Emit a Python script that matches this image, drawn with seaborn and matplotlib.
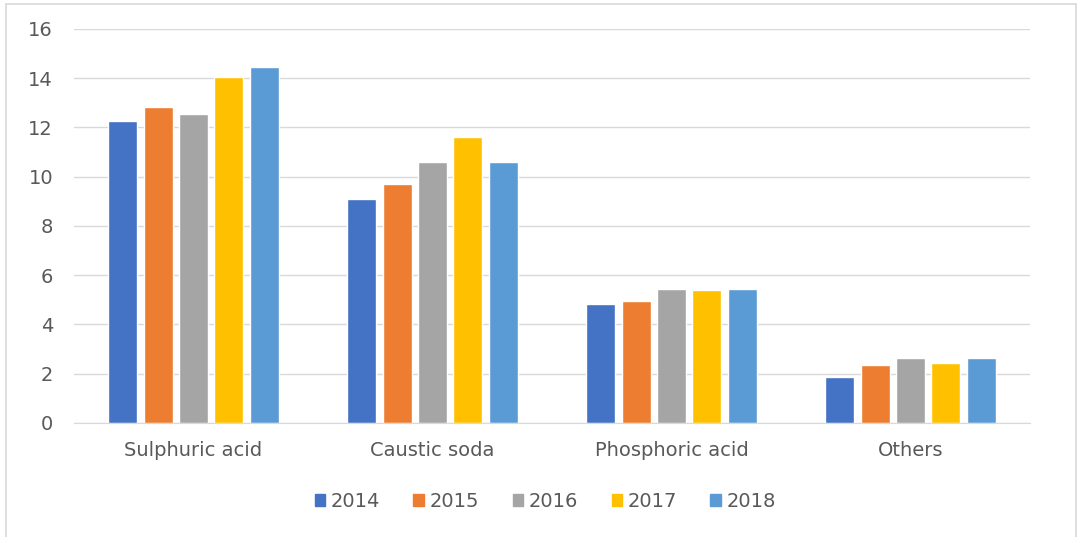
import pandas as pd
import seaborn as sns
from matplotlib import pyplot as plt
from matplotlib.patches import Rectangle
from matplotlib.lines import Line2D

# Daten
categories = ['Sulphuric acid', 'Caustic soda', 'Phosphoric acid', 'Others']
years = ['2014', '2015', '2016', '2017', '2018']
v2014 = [12.25, 9.1, 4.85, 1.85]
v2015 = [12.85, 9.7, 4.95, 2.35]
v2016 = [12.55, 10.6, 5.45, 2.65]
v2017 = [14.05, 11.6, 5.4, 2.45]
v2018 = [14.45, 10.6, 5.45, 2.65]
colors = ['#4472C4', '#ED7D31', '#A5A5A5', '#FFC000', '#5B9BD5']

rows = []
for year, vals in zip(years, [v2014, v2015, v2016, v2017, v2018]):
    for cat, v in zip(categories, vals):
        rows.append({'category': cat, 'year': year, 'value': v})
df = pd.DataFrame(rows)

sns.set_style("white")
plt.rcParams['font.family'] = ['DejaVu Sans']

fig = plt.figure(figsize=(10.78, 5.37), dpi=100)
ax = fig.add_axes([0.0686, 0.2123, 0.8868, 0.7337])

sns.barplot(data=df, x='category', y='value', hue='year', order=categories,
            hue_order=years, palette=colors, width=0.74, gap=0.18,
            saturation=1, ax=ax, legend=False)

ax.set_ylim(0, 16)
ax.set_yticks(range(0, 17, 2))
ax.set_xlim(-0.5, 3.5)
ax.grid(axis='y', color='#D9D9D9', linewidth=1)
ax.set_axisbelow(True)
for s in ['top', 'right', 'left']:
    ax.spines[s].set_visible(False)
ax.spines['bottom'].set_color('#D9D9D9')
ax.tick_params(axis='both', length=0, labelsize=14, labelcolor='#595959')
ax.tick_params(axis='x', pad=13)
ax.tick_params(axis='y', pad=15)
ax.set_xlabel('')
ax.set_ylabel('')

# Legende unten
handles = [Rectangle((0, 0), 1, 1, color=c) for c in colors]
fig.legend(handles, years, loc='center', bbox_to_anchor=(0.506, 0.066), ncol=5,
           frameon=False, fontsize=14, handlelength=0.55, handleheight=0.55,
           handletextpad=0.3, columnspacing=1.7, labelcolor='#595959')

# Rahmen (links, oben, rechts)
for xs, ys in [([6, 6], [537, 4]), ([6, 1076], [4, 4]), ([1076, 1076], [4, 537])]:
    fig.add_artist(Line2D([x / 1078 for x in xs], [1 - y / 537 for y in ys],
                          transform=fig.transFigure, color='#D9D9D9', linewidth=1.2))

fig.savefig('out.png', dpi=100)
